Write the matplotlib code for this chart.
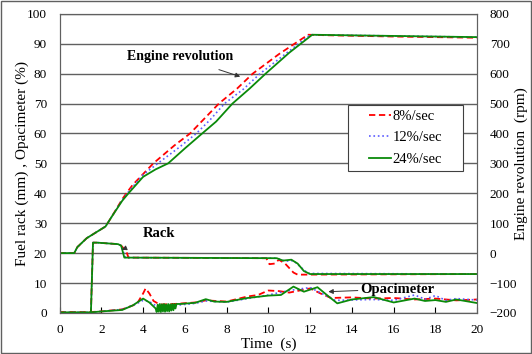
import numpy as np
import matplotlib.pyplot as plt
from matplotlib.patches import Rectangle

plt.rcParams['font.family'] = ['Liberation Serif', 'DejaVu Serif']

# Engine revolution (rpm, right axis)
eng_t_8 = [0, 0.7, 0.85, 1.3, 2.2, 2.5, 3.0, 3.2, 3.5, 4.49, 5.5, 6.25, 7.63, 8.5, 9.25, 10.5, 11.9, 13, 16, 20]
eng_v_8 = [0, 0, 20, 50, 89, 122, 180, 200, 228, 300, 360, 400, 500, 550, 600, 665, 730, 728, 724, 720]
eng_t_12 = [0, 0.7, 0.85, 1.3, 2.2, 2.5, 3.0, 3.3, 4.0, 4.8, 5.7, 6.55, 7.2, 7.9, 8.8, 9.6, 10.8, 12.0, 14, 17, 20]
eng_v_12 = [0, 0, 20, 50, 89, 122, 178, 205, 262, 305, 352, 400, 445, 500, 548, 600, 665, 730, 728, 725, 722]
eng_t_24 = [0, 0.7, 0.85, 1.3, 2.2, 2.5, 3.0, 3.3, 4.0, 4.6, 5.2, 6.0, 6.83, 7.5, 8.28, 9.1, 9.9, 11.0, 12.1, 14, 16, 18, 20]
eng_v_24 = [0, 0, 20, 50, 89, 122, 175, 200, 255, 280, 300, 350, 400, 440, 500, 550, 602, 670, 730, 728, 726, 724, 722]

# Fuel rack (mm)
rack_t_8 = [0, 1.5, 1.6, 1.8, 2.8, 2.95, 3.2, 3.3, 9.9, 10.05, 10.3, 10.5, 10.8, 11.2, 11.4, 20]
rack_v_8 = [0, 0, 23.5, 23.5, 23.0, 22.5, 20.5, 18.5, 18.3, 16.3, 16.5, 17.8, 16.5, 13.5, 12.8, 13.0]
rack_t_12 = [0, 1.5, 1.6, 1.8, 2.8, 2.95, 3.15, 10.4, 10.8, 11.2, 11.6, 11.9, 20]
rack_v_12 = [0, 0, 23.5, 23.5, 23.0, 22.5, 18.5, 18.3, 17.3, 17.5, 15.0, 13.2, 13.0]
rack_t_24 = [0, 1.5, 1.6, 1.8, 2.8, 2.95, 3.1, 10.4, 10.7, 11.1, 11.4, 11.7, 12.0, 20]
rack_v_24 = [0, 0, 23.5, 23.5, 23.0, 22.5, 18.5, 18.3, 17.5, 17.8, 16.5, 14.0, 13.0, 13.0]

# Opacimeter (%)
opa_t_8 = [0, 1.5, 2.0, 3.0, 3.7, 4.0, 4.12, 4.3, 4.5, 4.8, 5.5, 6.5, 7.0, 8.0, 9.0, 9.5, 10.0, 10.5,
           11.0, 11.5, 12.0, 12.5, 13.0, 14, 15, 16, 17, 18, 19, 20]
opa_v_8 = [0.3, 0.3, 0.5, 1.2, 3.0, 6.5, 8.2, 6.5, 4.0, 2.8, 3.0, 3.5, 4.2, 3.8, 5.5, 6.0, 7.5, 7.3,
           6.8, 7.5, 8.2, 6.5, 5.0, 5.2, 4.8, 5.0, 4.5, 4.8, 4.2, 4.5]
opa_t_12 = [0, 1.5, 2.0, 3.0, 3.6, 4.0, 4.3, 4.7, 5.5, 6.5, 7.0, 8.0, 9.0, 10.0, 11.0, 12.0, 12.7,
            13.2, 15, 16, 17, 17.5, 18, 18.5, 19, 20]
opa_v_12 = [0.2, 0.2, 0.5, 1.2, 2.8, 4.2, 3.8, 2.0, 2.5, 3.2, 4.0, 3.6, 4.8, 6.0, 7.5, 8.5, 6.0,
            4.2, 4.5, 4.2, 6.0, 4.6, 5.8, 4.2, 4.8, 4.3]
opa_t_24 = [0, 1.5, 2.0, 3.0, 3.5, 4.0, 4.3, 4.6,
            4.65, 4.7, 4.75, 4.8, 4.85, 4.9, 4.95, 5.0, 5.05, 5.1, 5.15, 5.2, 5.25, 5.3, 5.35, 5.4,
            5.45, 5.5, 5.55, 5.6, 5.8, 6.5, 7.0, 7.4, 8.0, 9.0, 10.0, 10.6, 11.2, 11.7, 12.35, 12.8,
            13.3, 14, 15.05, 16, 17, 17.5, 18, 18.5, 19, 20]
opa_v_24 = [0.2, 0.2, 0.5, 1.0, 2.5, 4.8, 3.5, 1.5,
            0.3, 2.8, 0.4, 3.0, 0.3, 2.9, 0.5, 3.0, 0.4, 2.8, 0.6, 3.0, 0.5, 2.9, 0.8, 3.0,
            0.9, 3.0, 1.5, 3.0, 3.0, 3.4, 4.6, 3.8, 3.7, 5.0, 5.8, 6.0, 8.8, 7.1, 8.6, 6.0,
            3.2, 4.5, 5.3, 3.5, 4.8, 4.0, 4.3, 3.7, 4.5, 3.3]

labels = ['8%/sec', '12%/sec', '24%/sec']
styles = [dict(color='red', ls=(0, (3.5, 2)), lw=1.3),
          dict(color='#5b5bff', ls=':', lw=1.2),
          dict(color='#0a8a0a', ls='-', lw=1.3)]

fig = plt.figure(figsize=(5.32, 3.54), dpi=100)
ax = fig.add_axes([0.112, 0.116, 0.785, 0.845])
ax2 = ax.twinx()

rack = [(rack_t_8, rack_v_8), (rack_t_12, rack_v_12), (rack_t_24, rack_v_24)]
opa = [(opa_t_8, opa_v_8), (opa_t_12, opa_v_12), (opa_t_24, opa_v_24)]
eng = [(eng_t_8, eng_v_8), (eng_t_12, eng_v_12), (eng_t_24, eng_v_24)]

for i in range(3):
    ax.plot(rack[i][0], rack[i][1], **styles[i])
    ax.plot(opa[i][0], opa[i][1], **styles[i])
    ax2.plot(eng[i][0], eng[i][1], label=labels[i], **styles[i])

ax.set_xlim(0, 20)
ax.set_ylim(0, 100)
ax2.set_ylim(-200, 800)
ax.set_xticks(np.arange(0, 21, 2))
ax.set_yticks(np.arange(0, 101, 10))
ax2.set_yticks(np.arange(-200, 801, 100))
ax.yaxis.grid(True, color='#606060', lw=1)
ax.set_axisbelow(True)

ax.tick_params(axis='x', direction='in', length=4, labelsize=9.5, pad=8)
ax.tick_params(axis='y', length=0, labelsize=9.5, pad=9)
ax2.tick_params(axis='y', length=0, labelsize=9.5, pad=9)
for a in (ax, ax2):
    for s in a.spines.values():
        s.set_color('#606060')

ax.set_xlabel('Time  (s)', fontsize=11)
ax.xaxis.set_label_coords(0.5, -0.082)
ax.set_ylabel('Fuel rack (mm) , Opacimeter (%)', fontsize=11)
ax.yaxis.set_label_coords(-0.073, 0.5)
ax2.set_ylabel('Engine revolution  (rpm)', fontsize=11)
ax2.yaxis.set_label_coords(1.09, 0.5)

ax.annotate('Engine revolution', xy=(8.65, 79.0), xytext=(5.77, 85.6),
            fontsize=10, fontweight='bold', ha='center', va='center',
            arrowprops=dict(arrowstyle='-|>', color='#333333', lw=0.7, mutation_scale=7,
                            shrinkA=8, shrinkB=0))
ax.annotate('Rack', xy=(2.98, 21.1), xytext=(4.77, 26.4),
            fontsize=10.5, fontweight='bold', ha='center', va='center',
            arrowprops=dict(arrowstyle='-|>', color='#333333', lw=0.7, mutation_scale=7,
                            shrinkA=12, shrinkB=0))
ax.annotate('Opacimeter', xy=(12.87, 7.1), xytext=(16.19, 8.0),
            fontsize=10.5, fontweight='bold', ha='center', va='center',
            arrowprops=dict(arrowstyle='-|>', color='#333333', lw=0.7, mutation_scale=7,
                            shrinkA=38, shrinkB=0))

# legend box drawn separately (wide padding in the original)
ax2.add_patch(Rectangle((0.691, 0.475), 0.275, 0.221, transform=ax2.transAxes,
                        facecolor='white', edgecolor='#404040', lw=0.8, zorder=4))
leg = ax2.legend(loc='center', bbox_to_anchor=(0.8285, 0.5855), fontsize=10.5,
                 frameon=False, handlelength=1.55, labelspacing=0.55, handletextpad=0.1,
                 borderpad=0, borderaxespad=0)
leg.set_zorder(5)

fig.patches.append(Rectangle((0.002, 0.003), 0.996, 0.994, transform=fig.transFigure,
                             fill=False, edgecolor='#606060', lw=1))

fig.savefig('out.png', dpi=100)
